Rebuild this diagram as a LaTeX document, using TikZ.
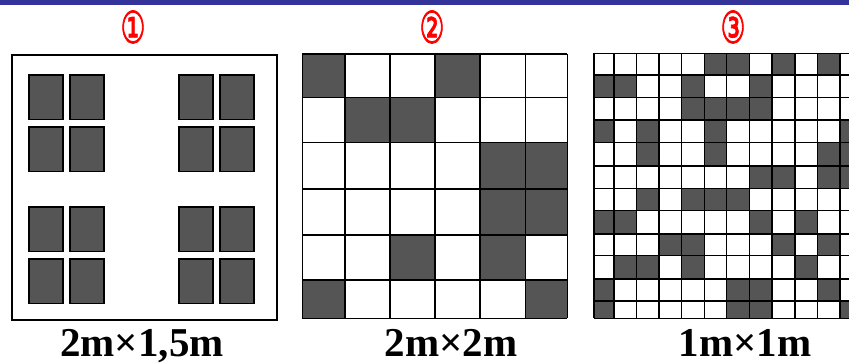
\documentclass[tikz,border=0pt]{standalone}
\usepackage{graphicx}
\usepackage{fontspec}
\newfontfamily\labfont{Liberation Serif}
\newfontfamily\dvfont[FakeBold=2]{DejaVu Sans}
\definecolor{cellgray}{RGB}{85,85,85}
\definecolor{barblue}{RGB}{51,51,153}
\tikzset{
  winbox/.style={draw=black, line width=1.3pt, fill=cellgray},
  gridline/.style={draw=black, line width=1.3pt},
  darkcell/.style={fill=cellgray},
  circnum/.style={text=red, inner sep=0pt},
  sizelabel/.style={font=\labfont\bfseries\fontsize{41}{41}\selectfont, anchor=base, inner sep=0pt}
}
\begin{document}
\begin{tikzpicture}[x=1pt,y=-1pt]
\useasboundingbox (0,0) rectangle (849,363);
\fill[white] (0,0) rectangle (849,363);
\fill[barblue] (0,0) rectangle (849,5);

% circled numbers
\node[circnum] (n1) at (133,27) {\resizebox*{25pt}{33pt}{\dvfont ①}};
\node[circnum] (n2) at (432,27) {\resizebox*{25pt}{33pt}{\dvfont ②}};
\node[circnum] (n3) at (733,27) {\resizebox*{25pt}{33pt}{\dvfont ③}};

% panel 1
\draw[line width=1.2pt] (12,55) rectangle (277,320);
\foreach \x in {29,70,179,220}{
  \foreach \y in {75,127,207,259}{
    \draw[winbox] (\x,\y) rectangle ++(34,44.5);
  }
}

% panel 2
\def\px{{302.3,345,390,435,480,525.7,567.3}}
\def\py{{54,97.3,142.7,189,235,280,318.3}}
\foreach \c/\r in {1/1,4/1,2/2,3/2,5/3,6/3,5/4,6/4,3/5,5/5,1/6,6/6}{
  \pgfmathsetmacro\xa{\px[\c-1]}
  \pgfmathsetmacro\xb{\px[\c]}
  \pgfmathsetmacro\ya{\py[\r-1]}
  \pgfmathsetmacro\yb{\py[\r]}
  \fill[darkcell] (\xa,\ya) rectangle (\xb,\yb);
}
\foreach \i in {0,...,6}{
  \pgfmathsetmacro\xx{\px[\i]}
  \pgfmathsetmacro\yy{\py[\i]}
  \draw[gridline] (\xx,54) -- (\xx,318.3);
  \draw[gridline] (302.3,\yy) -- (567.3,\yy);
}

% panel 3
\begin{scope}
\clip (0,0) rectangle (849,363);
\def\qx{{594,614,636.7,659,681.7,704.3,726.7,749.3,772,795,817.7,840,862.6}}
\def\qy{{53.3,75,97.7,120,142.7,166,188.3,210.7,234,255.7,279,301,318.3}}
\foreach \r/\cs in {1/{6,7,9,11},2/{1,2,5,8},3/{5,6,7,8},4/{1,3,6,12},5/{3,6,11,12},6/{8,9,11,12},7/{3,5,6,7},8/{1,2,8,10},9/{4,5,9,11},10/{2,3,5,10},11/{1,7,8,11},12/{1,7,8,12}}{
  \foreach \c in \cs {
    \pgfmathsetmacro\xa{\qx[\c-1]}
    \pgfmathsetmacro\xb{\qx[\c]}
    \pgfmathsetmacro\ya{\qy[\r-1]}
    \pgfmathsetmacro\yb{\qy[\r]}
    \fill[darkcell] (\xa,\ya) rectangle (\xb,\yb);
  }
}
\foreach \i in {0,...,12}{
  \pgfmathsetmacro\xx{\qx[\i]}
  \pgfmathsetmacro\yy{\qy[\i]}
  \draw[gridline, line width=1.2pt] (\xx,53.3) -- (\xx,318.3);
  \draw[gridline, line width=1.2pt] (594,\yy) -- (862.6,\yy);
}
\end{scope}

% labels
\node[sizelabel] (l1) at (142,356) {2m×1,5m};
\node[sizelabel] (l2) at (451,356) {2m×2m};
\node[sizelabel] (l3) at (745,356) {1m×1m};
\end{tikzpicture}
\end{document}
